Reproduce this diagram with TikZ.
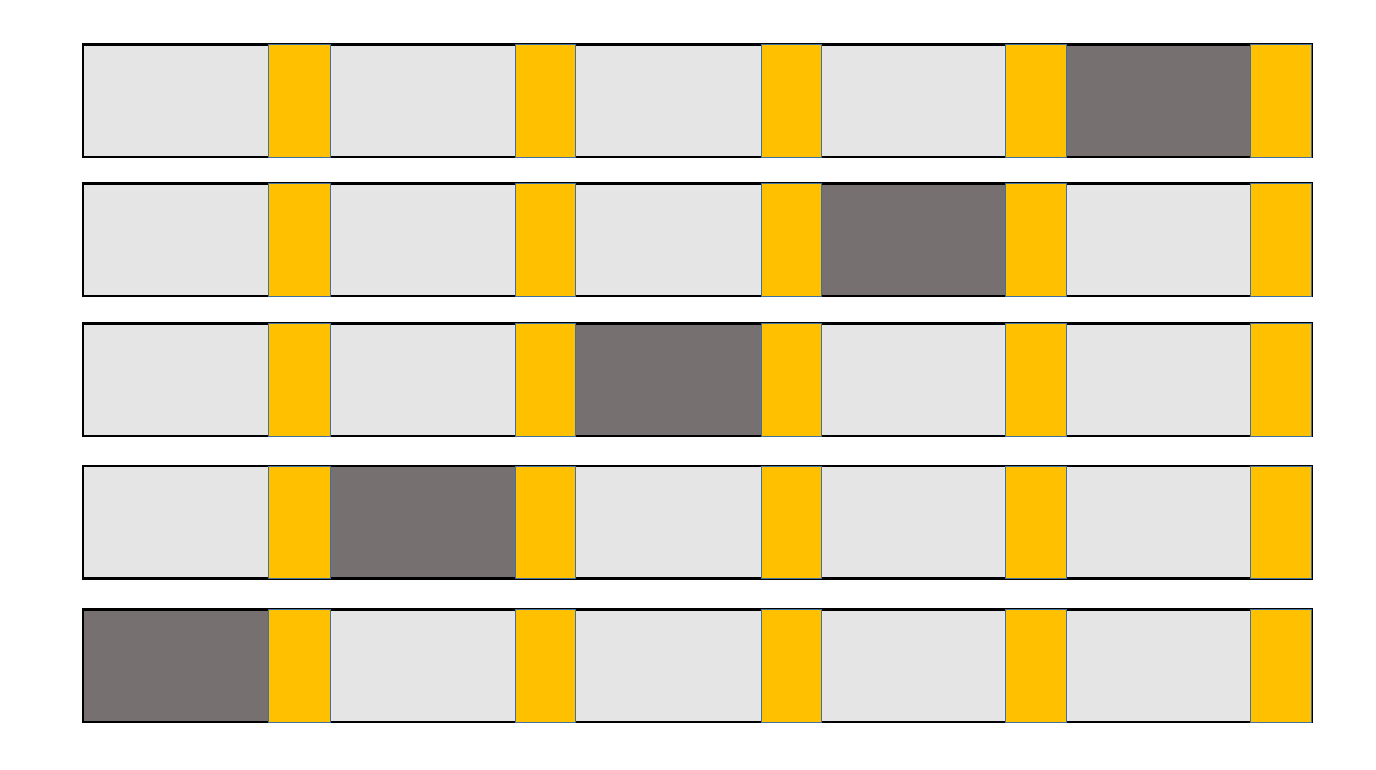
\documentclass[tikz,border=0pt]{standalone}
\definecolor{cellgray}{HTML}{E5E5E5}
\definecolor{hotgray}{HTML}{767170}
\definecolor{gold}{HTML}{FFC000}
\definecolor{sepblue}{HTML}{41719C}
\begin{document}
\begin{tikzpicture}[x=1pt,y=-1pt,
  base/.style={inner sep=0pt, outer sep=0pt, anchor=north west, minimum height=112.5pt},
  frame/.style={base, draw=black, line width=2.7pt, fill=cellgray},
  cell/.style={base, draw=black, line width=2.7pt},
  sepbar/.style={base, draw=sepblue, line width=0.9pt, fill=gold}]
\useasboundingbox (0,0) rectangle (1376,769);
\foreach \r/\ty/\d in {1/44.5/5, 2/183.5/4, 3/323.5/3, 4/466/2, 5/609.5/1} {
  \node[frame, minimum width=1229pt] (f\r) at (83,\ty) {};
  \foreach \k/\cx/\cw in {1/83/215, 2/330/215, 3/575/216, 4/821/214, 5/1066/214} {
    \ifnum\k=\d\def\fc{hotgray}\else\def\fc{cellgray}\fi
    \node[cell, fill=\fc, minimum width=\cw pt] (c\r\k) at (\cx,\ty) {};
  }
  \foreach \k/\yx/\yw in {1/268/62, 2/515/60, 3/761/60, 4/1005/61, 5/1250/61.5} {
    \node[sepbar, minimum width=\yw pt] (y\r\k) at (\yx,\ty) {};
  }
}
\end{tikzpicture}
\end{document}
